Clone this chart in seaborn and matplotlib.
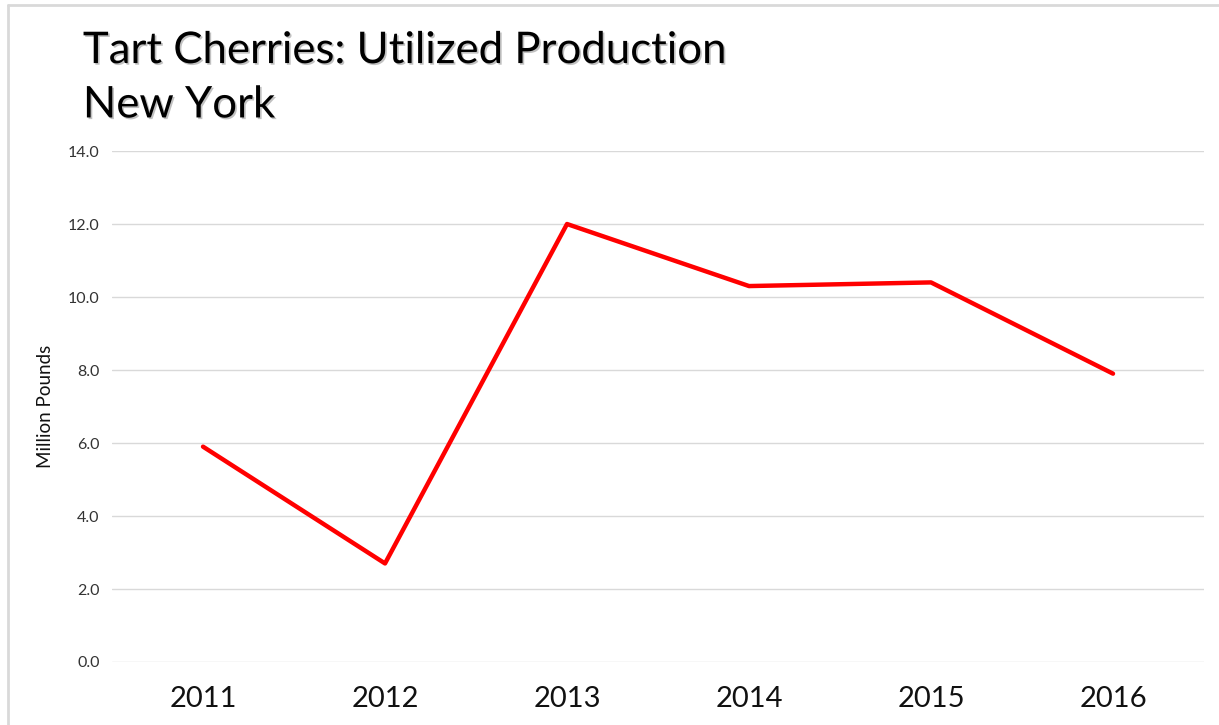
import matplotlib
matplotlib.use("Agg")
import matplotlib.pyplot as plt
import matplotlib.patheffects as pe
from matplotlib.lines import Line2D
import pandas as pd
import seaborn as sns

# data
years = ["2011", "2012", "2013", "2014", "2015", "2016"]
production = [5.9, 2.7, 12.0, 10.3, 10.4, 7.9]
y_ticks = [0, 2, 4, 6, 8, 10, 12, 14]

df = pd.DataFrame({"year": years, "production": production})

sns.set_style("white")
plt.rcParams["font.family"] = ["Lato", "DejaVu Sans"]

fig = plt.figure(figsize=(12.19, 7.25), dpi=100)
ax = fig.add_axes([0.0919, 0.0869, 0.8958, 0.7048])

sns.lineplot(data=df, x="year", y="production", color="#ff0000",
             linewidth=3.2, sort=False, ax=ax)

ax.set_xlim(-0.5, 5.5)
ax.set_ylim(0, 14)
ax.set_yticks(y_ticks)
ax.set_yticklabels([f"{v:.1f}" for v in y_ticks], fontsize=11.5, color="#333333")
ax.tick_params(axis="x", labelsize=21, length=0, pad=17, colors="#111111")
ax.tick_params(axis="y", length=0, pad=9)
ax.yaxis.grid(True, color="#d9d9d9", linewidth=1)
ax.set_axisbelow(True)
for s in ax.spines.values():
    s.set_visible(False)

ax.set_xlabel("")
ax.set_ylabel("Million Pounds", fontsize=13.5, color="#111111", labelpad=10)

# title with a soft shadow
shadow = [pe.SimplePatchShadow(offset=(1.2, -1.2), shadow_rgbFace="#999999", alpha=0.6),
          pe.Normal()]
fig.text(0.068, 0.913, "Tart Cherries: Utilized Production", fontsize=31.5,
         color="#000000", va="baseline", path_effects=shadow)
fig.text(0.068, 0.838, "New York", fontsize=31.5, color="#000000",
         va="baseline", path_effects=shadow)

# slide frame lines on the left and top
fig.add_artist(Line2D([0.0062, 0.0062], [0.0, 0.9931], transform=fig.transFigure,
                      color="#d9d9d9", linewidth=2))
fig.add_artist(Line2D([0.0062, 1.0], [0.9931, 0.9931], transform=fig.transFigure,
                      color="#d9d9d9", linewidth=2))

fig.savefig("out.png", dpi=100, facecolor="white")
